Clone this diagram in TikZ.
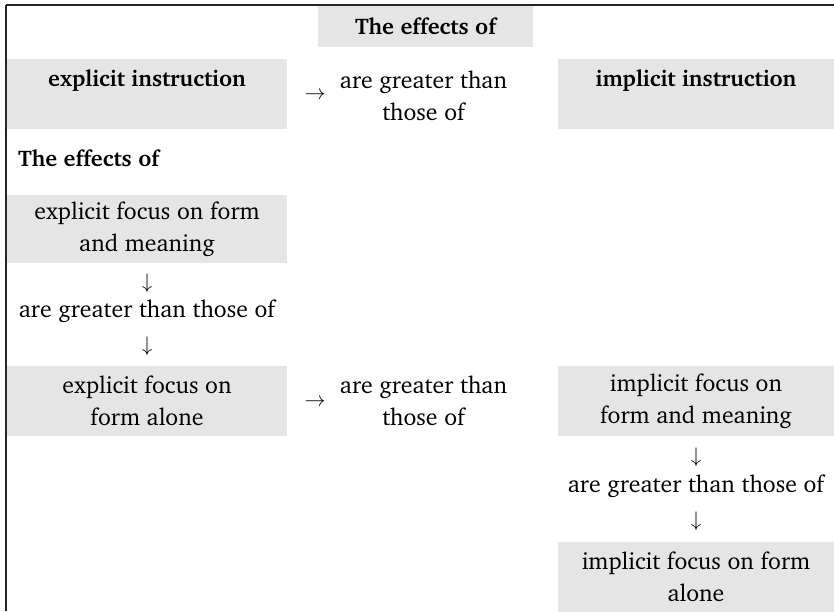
\RequirePackage{fix-cm}
\documentclass[tikz,border=0pt]{standalone}
\usepackage[T1]{fontenc}
\usepackage{charter}
\begin{document}
\begin{tikzpicture}[x=1pt,y=-1pt,
  font=\fontsize{23.8}{31.5}\selectfont,
  boldtext/.style={font=\fontsize{22.6}{31.5}\selectfont\bfseries},
  arrowtext/.style={inner sep=0pt, font=\fontsize{21}{31.5}\selectfont},
  cell/.style={fill=black!10, inner sep=0pt, align=center, minimum height=70pt},
  widecell/.style={cell, minimum width=280pt},
  rightcell/.style={cell, minimum width=276pt},
  txt/.style={inner sep=0pt, align=center},
  frameline/.style={line width=1.4pt, draw=black!85}]
\useasboundingbox (0,0) rectangle (834,611);

% header row
\node[cell, minimum width=215pt, minimum height=41pt, boldtext] (effTop) at (425.5,26.5) {The effects of};
\node[widecell, boldtext] (expl) at (147,94) {explicit instruction\\\phantom{those of}};
\node[rightcell, boldtext] (impl) at (696,94) {implicit instruction\\\phantom{those of}};
\node[arrowtext] (arrA) at (315,96) {$\rightarrow$};
\node[txt] (gtA) at (423.5,96) {are greater than\\those of};

% left column
\node[txt, anchor=west, boldtext] (effLeft) at (18,158) {The effects of};
\node[widecell, minimum height=68pt] (efm) at (147,229) {explicit focus on form\\and meaning};
\node[arrowtext] (dnA) at (147,283) {$\downarrow$};
\node[txt] (gtB) at (147,311) {are greater than those of};
\node[arrowtext] (dnB) at (147,346) {$\downarrow$};
\node[widecell] (efa) at (147,401) {explicit focus on\\form alone};

% middle row
\node[arrowtext] (arrB) at (315,403) {$\rightarrow$};
\node[txt] (gtC) at (423.5,401) {are greater than\\those of};

% right column
\node[rightcell] (ifm) at (696,401) {implicit focus on\\form and meaning};
\node[arrowtext] (dnC) at (696,457) {$\downarrow$};
\node[txt] (gtD) at (696,486) {are greater than those of};
\node[arrowtext] (dnD) at (696,521) {$\downarrow$};
\node[rightcell] (ifa) at (696,577) {implicit focus on form\\alone};

% frame
\draw[frameline] (6,5) -- (834,5);
\draw[frameline] (6,5) -- (6,611);
\end{tikzpicture}
\end{document}
